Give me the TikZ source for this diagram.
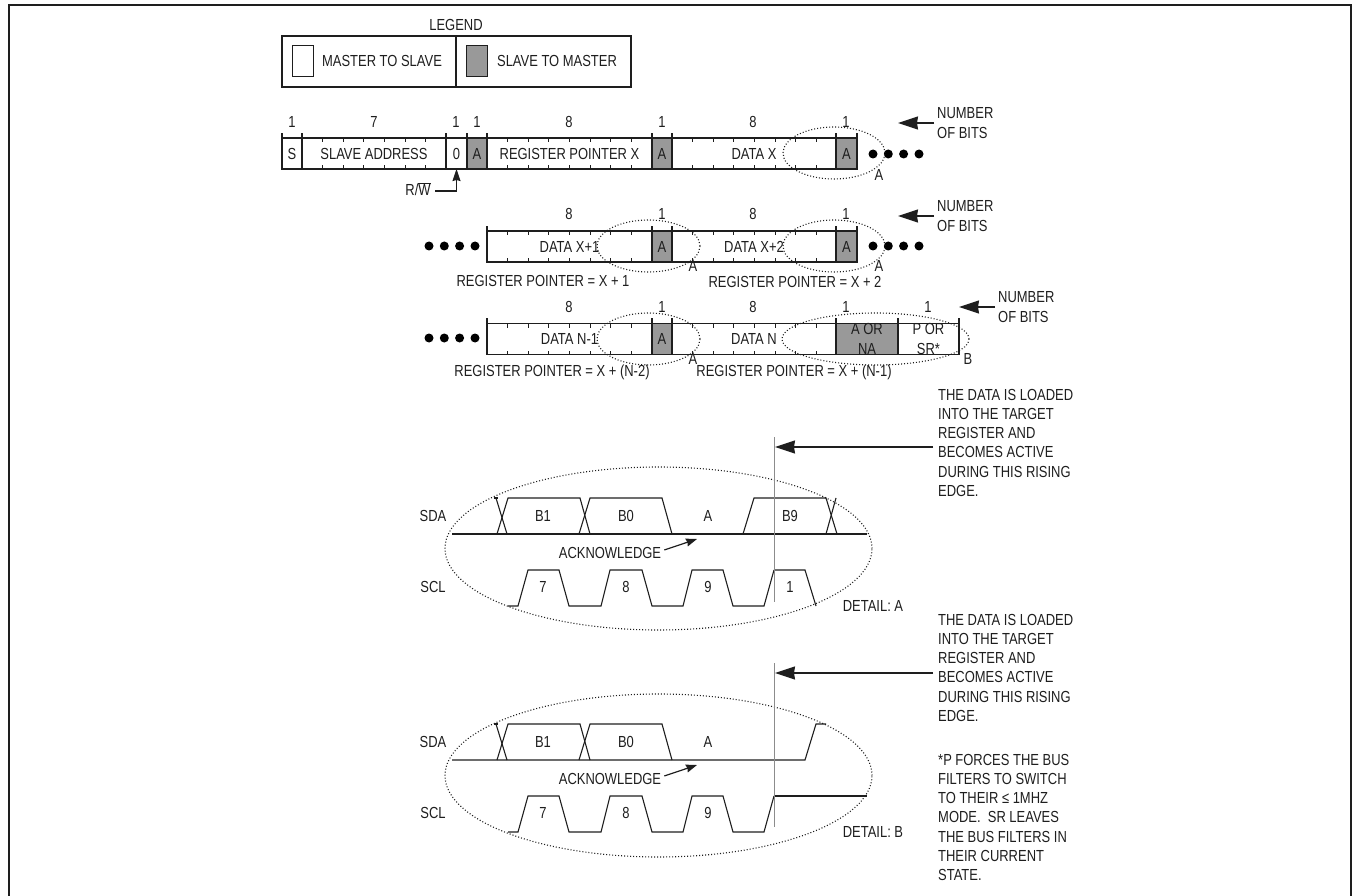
\documentclass[tikz,border=0pt]{standalone}
\usepackage{xcolor}
\usepackage{fontspec}
\setmainfont[FakeStretch=0.81]{Liberation Sans}
\usetikzlibrary{arrows.meta, shapes.geometric, calc}
\definecolor{slavegray}{RGB}{153, 153, 153}
\definecolor{edgegray}{RGB}{140, 140, 140}
\definecolor{inkblack}{RGB}{30, 30, 30}
\tikzset{
    every node/.style={font=\fontsize{16}{19.2}\selectfont, text=inkblack},
    wire/.style={draw=inkblack, line width=1.1pt, line join=miter},
    tick/.style={draw=inkblack, line width=0.9pt},
    label/.style={inner sep=0pt},
    notetext/.style={inner sep=0pt, anchor=north west, align=left},
    cell/.style={draw=inkblack, line width=1.1pt, inner sep=0pt, outer sep=0pt, minimum height=31pt, align=center},
    ackcell/.style={cell, fill=slavegray},
    swatch/.style={draw=inkblack, line width=1pt, inner sep=0pt, minimum width=21pt, minimum height=31pt},
    detailring/.style={ellipse, draw=inkblack, line width=1.1pt, dash pattern=on 1pt off 2pt, inner sep=0pt, outer sep=0pt},
    busdot/.style={circle, fill=black, inner sep=0pt, minimum size=9pt},
    bitsarrow/.style={draw=inkblack, line width=1.2pt, -{Stealth[length=20pt, width=13pt, inset=1pt]}},
    smallarrow/.style={draw=inkblack, line width=1.2pt, -{Stealth[length=11pt, width=8pt, inset=1pt]}},
    edgeline/.style={draw=edgegray, line width=1pt}
}
% ticks of one byte: left edge, top of row, number of bits
\newcommand{\bitticks}[3]{
    \foreach \k in {1,...,#3} {
        \draw[tick] ({#1+\k*20.6},#2) -- +(0,4);
        \draw[tick] ({#1+\k*20.6},#2+31) -- +(0,-4);
    }
}
% a row of four bus dots
\newcommand{\busdots}[3]{
    \node[busdot] (#1a) at (#2,#3) {};
    \node[busdot] (#1b) at (#2+15.3,#3) {};
    \node[busdot] (#1c) at (#2+30.6,#3) {};
    \node[busdot] (#1d) at (#2+46,#3) {};
}
% what both timing details share
\newcommand{\timingbase}{
    \node[label] (sda) at (433,516) {SDA};
    \node[label] (scl) at (433,587) {SCL};
    \node[label] (bone) at (543,516) {B1};
    \node[label] (bzero) at (626,516) {B0};
    \node[label] (ackbit) at (708,516) {A};
    \node[label] (clkseven) at (543,587) {7};
    \node[label] (clkeight) at (626,587) {8};
    \node[label] (clknine) at (708,587) {9};
    \node[label] (ack) at (610,553) {ACKNOWLEDGE};
    \coordinate (acktip) at (697,539);
    \draw[smallarrow] (ack.east) ++(3,-3) -- (acktip);
    \draw[wire] (494,498) -- (498,498);
    \draw[wire] (496,498) -- (507,534);
    \draw[wire] (497,534) -- (508,498) -- (580,498) -- (590,534);
    \draw[wire] (579,534) -- (590,498) -- (662,498) -- (672,534);
    \draw[wire] (508,606) -- (518,606) -- (528,570) -- (559,570) -- (569,606) -- (601,606)
        -- (610,570) -- (642,570) -- (652,606) -- (683,606) -- (692,570) -- (723,570)
        -- (733,606) -- (764,606) -- (774,570);
}
\begin{document}
\begin{tikzpicture}[x=1pt, y=-1pt]
    \useasboundingbox (0,0) rectangle (1353,896);
    \draw[draw=inkblack, line width=2pt] (9,896) -- (9,5) -- (1351,5) -- (1351,896);

    % legend
    \node[label] (legend) at (456,25) {LEGEND};
    \node[cell, minimum width=174pt, minimum height=51pt] (legendleft) at (369,61.5) {};
    \node[cell, minimum width=175pt, minimum height=51pt] (legendright) at (543.5,61.5) {};
    \node[swatch] (masterswatch) at (302.5,61.5) {};
    \node[swatch, fill=slavegray] (slaveswatch) at (477,61.5) {};
    \node[label] (mastertext) at (382,61) {MASTER TO SLAVE};
    \node[label] (slavetext) at (557,61) {SLAVE TO MASTER};

    % first row
    \node[cell, minimum width=20pt] (startbit) at (292,153.5) {S};
    \node[cell, minimum width=144pt] (address) at (374,153.5) {SLAVE ADDRESS};
    \node[cell, minimum width=21pt] (rwbit) at (456.5,153.5) {0};
    \node[ackcell, minimum width=20pt] (ackone) at (477,153.5) {A};
    \node[cell, minimum width=165pt] (pointer) at (569.5,153.5) {REGISTER POINTER X};
    \node[ackcell, minimum width=20pt] (acktwo) at (662,153.5) {A};
    \node[cell, minimum width=164pt] (datax) at (754,153.5) {DATA X};
    \node[ackcell, minimum width=21pt] (ackthree) at (846.5,153.5) {A};
    \bitticks{302}{138}{6}
    \bitticks{487}{138}{7}
    \bitticks{672}{138}{7}
    \foreach \c in {startbit.north west, startbit.north east, address.north east, rwbit.north east,
        ackone.north east, acktwo.north west, acktwo.north east, ackthree.north west, ackthree.north east} {
        \draw[wire] (\c) -- +(0,-5);
    }
    \node[label] at (292,122) (bitsa) {1};
    \node[label] at (374,122) (bitsb) {7};
    \node[label] at (456,122) (bitsc) {1};
    \node[label] at (477,122) (bitsd) {1};
    \node[label] at (569,122) (bitse) {8};
    \node[label] at (662,122) (bitsf) {1};
    \node[label] at (753,122) (bitsg) {8};
    \node[label] at (846,122) (bitsh) {1};
    \busdots{dotsa}{873}{154}
    \node[detailring, minimum width=102pt, minimum height=52pt] (ringa) at (834,153) {};
    \node[label] (ringalabel) at (879,175) {A};
    \node[notetext, anchor=west, inner xsep=3pt] (numbera) at (934,123) {NUMBER\\OF BITS};
    \coordinate (numberatip) at (898,123);
    \draw[bitsarrow] (numbera.west) -- (numberatip);
    \node[label] (rwlabel) at (418,189) {R/$\overline{\mbox{W}}$};
    \coordinate (rwend) at (435,191);
    \draw[draw=inkblack, line width=1.2pt, -{Stealth[length=12pt, width=8pt, inset=1pt]}] (rwend) -| (rwbit.south);

    % second row
    \busdots{dotsb}{429}{246}
    \node[cell, minimum width=165pt] (dataxone) at (569.5,246.5) {DATA X+1};
    \node[ackcell, minimum width=20pt] (ackfour) at (662,246.5) {A};
    \node[cell, minimum width=164pt] (dataxtwo) at (754,246.5) {DATA X+2};
    \node[ackcell, minimum width=21pt] (ackfive) at (846.5,246.5) {A};
    \bitticks{487}{231}{7}
    \bitticks{672}{231}{7}
    \foreach \c in {dataxone.north west, ackfour.north west, ackfour.north east, ackfive.north west, ackfive.north east} {
        \draw[wire] (\c) -- +(0,-5);
    }
    \node[label] at (569,214) (bitsi) {8};
    \node[label] at (662,214) (bitsj) {1};
    \node[label] at (753,214) (bitsk) {8};
    \node[label] at (846,214) (bitsl) {1};
    \busdots{dotsc}{873}{246}
    \node[detailring, minimum width=103pt, minimum height=52pt] (ringb) at (648.5,246) {};
    \node[detailring, minimum width=102pt, minimum height=52pt] (ringc) at (834,246) {};
    \node[label] (ringblabel) at (693,266) {A};
    \node[label] (ringclabel) at (879,266) {A};
    \node[label] (pointerone) at (543,281) {REGISTER POINTER = X + 1};
    \node[label] (pointertwo) at (795,281.5) {REGISTER POINTER = X + 2};
    \node[notetext, anchor=west, inner xsep=3pt] (numberb) at (934,216) {NUMBER\\OF BITS};
    \coordinate (numberbtip) at (898,216);
    \draw[bitsarrow] (numberb.west) -- (numberbtip);

    % third row
    \busdots{dotsd}{429}{338}
    \node[cell, minimum width=165pt] (datanone) at (569.5,339) {DATA N-1};
    \node[ackcell, minimum width=20pt] (acksix) at (662,339) {A};
    \node[cell, minimum width=164pt] (datan) at (754,339) {DATA N};
    \node[ackcell, minimum width=62pt] (ackseven) at (867,339) {A OR\\NA};
    \node[cell, minimum width=61pt] (stopbit) at (928.5,339) {P OR\\SR*};
    \bitticks{487}{323.5}{7}
    \bitticks{672}{323.5}{7}
    \foreach \c in {datanone.north west, acksix.north west, acksix.north east, ackseven.north west, ackseven.north east, stopbit.north east} {
        \draw[wire] (\c) -- +(0,-5);
    }
    \node[label] at (569,307) (bitsm) {8};
    \node[label] at (662,307) (bitsn) {1};
    \node[label] at (753,307) (bitso) {8};
    \node[label] at (846,307) (bitsp) {1};
    \node[label] at (928,307) (bitsq) {1};
    \node[detailring, minimum width=103pt, minimum height=52pt] (ringd) at (648.5,339) {};
    \node[detailring, minimum width=187pt, minimum height=52pt] (ringe) at (875.5,339) {};
    \node[label] (ringdlabel) at (693,359) {A};
    \node[label] (ringelabel) at (968,359) {B};
    \node[label] (pointerthree) at (552,372) {REGISTER POINTER = X + (N-2)};
    \node[label] (pointerfour) at (794,372) {REGISTER POINTER = X + (N-1)};
    \node[notetext, anchor=west, inner xsep=3pt] (numberc) at (995,307) {NUMBER\\OF BITS};
    \coordinate (numberctip) at (959,307);
    \draw[bitsarrow] (numberc.west) -- (numberctip);

    % detail a
    \begin{scope}[name prefix=a]
        \timingbase
    \end{scope}
    \node[label] (bnine) at (790,516) {B9};
    \node[label] (clkone) at (790,587) {1};
    \draw[wire] (452,534) -- (867,534);
    \draw[wire] (743,534) -- (754,498) -- (826,498) -- (837,534);
    \draw[wire] (826,534) -- (836,498);
    \draw[wire] (774,570) -- (805,570) -- (816,606);
    \node[detailring, minimum width=427pt, minimum height=163pt] (ringf) at (658.5,548.5) {};
    \draw[edgeline] (774,437) -- (774,602);
    \node[label] (detaila) at (873,606) {DETAIL: A};
    \node[notetext] (loadnotea) at (938,389) {THE DATA IS LOADED\\INTO THE TARGET\\REGISTER AND\\BECOMES ACTIVE\\DURING THIS RISING\\EDGE.};
    \coordinate (loadtipa) at (775,447);
    \coordinate (loadenda) at (933,447);
    \draw[bitsarrow] (loadenda) -- (loadtipa);

    % detail b
    \begin{scope}[shift={(0,226)}, name prefix=b]
        \timingbase
    \end{scope}
    \draw[wire] (452,760) -- (805,760) -- (816,724) -- (826,724);
    \draw[wire] (774,796) -- (867,796);
    \node[detailring, minimum width=427pt, minimum height=163pt] (ringg) at (658.5,775.5) {};
    \draw[edgeline] (774,663) -- (774,827);
    \node[label] (detailb) at (873,832) {DETAIL: B};
    \node[notetext] (loadnoteb) at (938,614) {THE DATA IS LOADED\\INTO THE TARGET\\REGISTER AND\\BECOMES ACTIVE\\DURING THIS RISING\\EDGE.};
    \coordinate (loadtipb) at (775,673);
    \coordinate (loadendb) at (933,673);
    \draw[bitsarrow] (loadendb) -- (loadtipb);
    \node[notetext] (filternote) at (938,754) {*P FORCES THE BUS\\FILTERS TO SWITCH\\TO THEIR ≤ 1MHZ\\MODE.\ \ SR LEAVES\\THE BUS FILTERS IN\\THEIR CURRENT\\STATE.};
\end{tikzpicture}
\end{document}
